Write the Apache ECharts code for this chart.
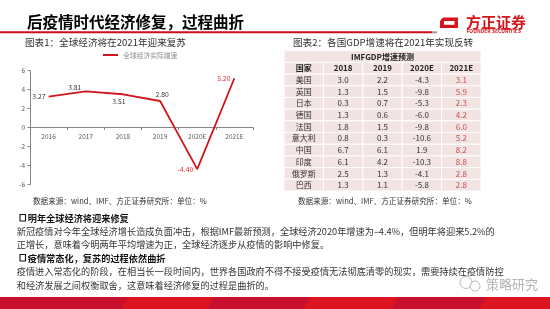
<!DOCTYPE html>
<html><head><meta charset="utf-8">
<script src="https://cdn.jsdelivr.net/npm/echarts@6/dist/echarts.min.js"></script>
<style>html,body{margin:0;padding:0;background:#fff}#c{width:550px;height:309px}</style>
</head><body><div id="c"></div>
<script>
// ---- data ----
var categories = ['2016','2017','2018','2019','2020E','2021E'];
var growth = [3.27, 3.81, 3.51, 2.80, -4.40, 5.20];
var seriesName = '全球经济实际增速';

var tableTitle = 'IMFGDP增速预测';
var tableCols = ['国家','2018','2019','2020E','2021E'];
var countries = ['美国','英国','日本','德国','法国','意大利','中国','印度','俄罗斯','巴西'];
var g2018 = [3.0, 1.3, 0.3, 1.3, 1.8, 0.8, 6.7, 6.1, 2.5, 1.3];
var g2019 = [2.2, 1.5, 0.7, 0.6, 1.5, 0.3, 6.1, 4.2, 1.3, 1.1];
var g2020 = [-4.3, -9.8, -5.3, -6.0, -9.8, -10.6, 1.9, -10.3, -4.1, -5.8];
var g2021 = [3.1, 5.9, 2.3, 4.2, 6.0, 5.2, 8.2, 8.8, 2.8, 2.8];

// ---- styles ----
var FONT = '"Noto Sans CJK SC", "Noto Sans", sans-serif';
var GRID_H = 113.6, Y_MIN = -6, Y_MAX = 6;
var labelPos = [
  {position:'left', distance:3},
  {position:'top', distance:1, offset:[-11,0]},
  {position:'bottom', distance:4, offset:[-4,0]},
  {position:'top', distance:3, offset:[2,0]},
  {position:'left', distance:4, color:'#f0282d'},
  {position:'left', distance:4, color:'#f0282d'}
];
var lineData = growth.map(function(v,i){ return {value:v, label:labelPos[i]}; });

// table cells
var cells = [];
cells.push({c:0, r:0, span:5, text:tableTitle, bold:true, color:'#222'});
tableCols.forEach(function(t,i){ cells.push({c:i, r:1, span:1, text:t, bold:true, color:'#222'}); });
var cols = [g2018, g2019, g2020, g2021];
countries.forEach(function(name, k){
  cells.push({c:0, r:k+2, span:1, text:name, bold:false, color:'#333'});
  cols.forEach(function(arr, j){
    cells.push({c:j+1, r:k+2, span:1, text:arr[k].toFixed(1), bold:false, color: j===3 ? '#c4504d' : '#333'});
  });
});
var rowIdx = []; for (var i=0;i<countries.length+2;i++) rowIdx.push(String(i));

var chart = echarts.init(document.getElementById('c'), null, {renderer:'canvas'});

function txt(x, y, text, size, opt){
  opt = opt || {};
  return {type:'text', x:x, y:y, z:10, style:{text:text, fontSize:size, fontFamily:FONT,
    fontWeight: opt.bold ? 'bold' : 'normal', fill: opt.color || '#333', verticalAlign:'middle', align: opt.align || 'left'}};
}

var body = [
  txt(27.7, 218.3, '明年全球经济将迎来修复', 9.2, {bold:true, color:'#111'}),
  txt(16.7, 231.7, '新冠疫情对今年全球经济增长造成负面冲击，根据IMF最新预测，全球经济2020年增速为–4.4%，但明年将迎来5.2%的', 9.2, {color:'#333'}),
  txt(16.7, 245, '正增长，意味着今明两年平均增速为正，全球经济逐步从疫情的影响中修复。', 9.2, {color:'#333'}),
  txt(27.7, 258.3, '疫情常态化，复苏的过程依然曲折', 9.2, {bold:true, color:'#111'}),
  txt(16.7, 271.7, '疫情进入常态化的阶段，在相当长一段时间内，世界各国政府不得不接受疫情无法彻底清零的现实，需要持续在疫情防控', 9.2, {color:'#333'}),
  txt(16.7, 285.7, '和经济发展之间权衡取舍，这意味着经济修复的过程是曲折的。', 9.2, {color:'#333'})
];

var graphics = [
  txt(27, 22, '后疫情时代经济修复，过程曲折', 15.5, {bold:true, color:'#000'}),
  {type:'rect', shape:{x:0, y:31.3, width:432, height:2}, style:{fill:'#c8101e'}},
  {type:'rect', shape:{x:432, y:31.3, width:5, height:2}, style:{fill:'#9a9a9a'}},
  // logo icon
  {type:'polygon', shape:{points:[[443,17.5],[458,17.5],[458,28],[440,28],[440,21]]}, style:{fill:'#d7141a'}},
  {type:'rect', shape:{x:444, y:21, width:10.5, height:3.8}, style:{fill:'#fff'}},
  txt(466, 22.5, '方正证券', 15, {bold:true, color:'#d7141a'}),
  txt(466.5, 31.3, 'FOUNDER SECURITIES', 5, {bold:true, color:'#d7141a'}),
  txt(25, 42.3, '图表1：全球经济将在2021年迎来复苏', 9.6, {color:'#333'}),
  txt(293, 42.3, '图表2：各国GDP增速将在2021年实现反转', 9.6, {color:'#333'}),
  txt(33, 201.5, '数据来源：wind、IMF、方正证券研究所：单位：%', 7.6, {color:'#333'}),
  txt(298, 201.5, '数据来源：wind、IMF、方正证券研究所：单位：%', 7.6, {color:'#333'}),
  {type:'rect', shape:{x:20, y:214.5, width:5.5, height:6.5}, style:{fill:'none', stroke:'#111', lineWidth:1.1}},
  {type:'rect', shape:{x:20, y:254.5, width:5.5, height:6.5}, style:{fill:'none', stroke:'#111', lineWidth:1.1}},
  // bottom band
  {type:'rect', shape:{x:0, y:297, width:550, height:12}, style:{fill:'#c8102e'}},
  {type:'polygon', shape:{points:[[128,297],[214,297],[208,309],[122,309]]}, style:{fill:'#dc1420'}},
  {type:'polygon', shape:{points:[[310,297],[398,297],[392,309],[304,309]]}, style:{fill:'#dc1420'}},
  {type:'polygon', shape:{points:[[486,297],[550,297],[550,309],[480,309]]}, style:{fill:'#dc1420'}},
  // watermark
  {type:'circle', shape:{cx:466, cy:282.5, r:6}, style:{fill:'rgba(255,255,255,0.6)', stroke:'#b8b8b8', lineWidth:1}},
  {type:'circle', shape:{cx:475, cy:286, r:5}, style:{fill:'rgba(255,255,255,0.6)', stroke:'#b8b8b8', lineWidth:1}},
  txt(486, 284, '策略研究', 13, {color:'#b3b3b3'})
].concat(body);

var option = {
  animation:false,
  textStyle:{fontFamily:FONT},
  legend:{data:[seriesName], left:103, top:50, padding:0, icon:'rect', itemWidth:15, itemHeight:2,
    textStyle:{fontSize:6.8, color:'#8c8c8c', fontFamily:FONT, lineHeight:10}},
  grid:[
    {left:30, top:70.7, width:223, height:GRID_H},
    {left:284, top:50.7, width:197, height:140.3}
  ],
  xAxis:[
    {gridIndex:0, type:'category', data:categories, boundaryGap:true, position:'bottom',
      offset: -GRID_H * (0 - Y_MIN) / (Y_MAX - Y_MIN),
      axisLine:{show:true, onZero:false, lineStyle:{color:'#868686', width:1}},
      axisTick:{show:true, length:2.5, lineStyle:{color:'#868686'}},
      axisLabel:{fontSize:6.5, color:'#595959', margin:6, fontFamily:FONT}},
    {gridIndex:1, type:'category', data:tableCols, show:false}
  ],
  yAxis:[
    {gridIndex:0, type:'value', min:Y_MIN, max:Y_MAX, interval:2,
      axisLine:{show:true, onZero:false, lineStyle:{color:'#868686'}},
      axisTick:{show:true, length:2.5, lineStyle:{color:'#868686'}},
      splitLine:{show:false},
      axisLabel:{fontSize:6.5, color:'#595959', margin:5, fontFamily:FONT}},
    {gridIndex:1, type:'category', data:rowIdx, inverse:true, show:false}
  ],
  series:[
    {name:seriesName, type:'line', xAxisIndex:0, yAxisIndex:0, data:lineData,
      symbol:'circle', symbolSize:0.01, color:'#d0161c',
      lineStyle:{color:'#d0161c', width:1.8},
      label:{show:true, fontSize:6.8, color:'#333', fontFamily:FONT,
        formatter:function(p){ return Number(p.value).toFixed(2); }}},
    {type:'custom', xAxisIndex:1, yAxisIndex:1, silent:true,
      data: cells.map(function(c){ return [c.c, c.r]; }),
      encode:{x:0, y:1},
      renderItem:function(params, api){
        var c = cells[params.dataIndex];
        var p = api.coord([api.value(0), api.value(1)]);
        var s = api.size([1,1]);
        var w = s[0]*c.span, h = s[1];
        var x = p[0]-s[0]/2, y = p[1]-h/2;
        return {type:'group', children:[
          {type:'rect', shape:{x:x, y:y, width:w, height:h}, style:{fill:'#f3e4e4', stroke:'#ffffff', lineWidth:1}},
          {type:'text', style:{text:c.text, x:x+w/2, y:p[1], align:'center', verticalAlign:'middle',
            fill:c.color, fontSize:8, fontFamily:FONT, fontWeight:c.bold?'bold':'normal'}}
        ]};
      }}
  ],
  graphic: graphics
};
chart.setOption(option);
</script></body></html>
